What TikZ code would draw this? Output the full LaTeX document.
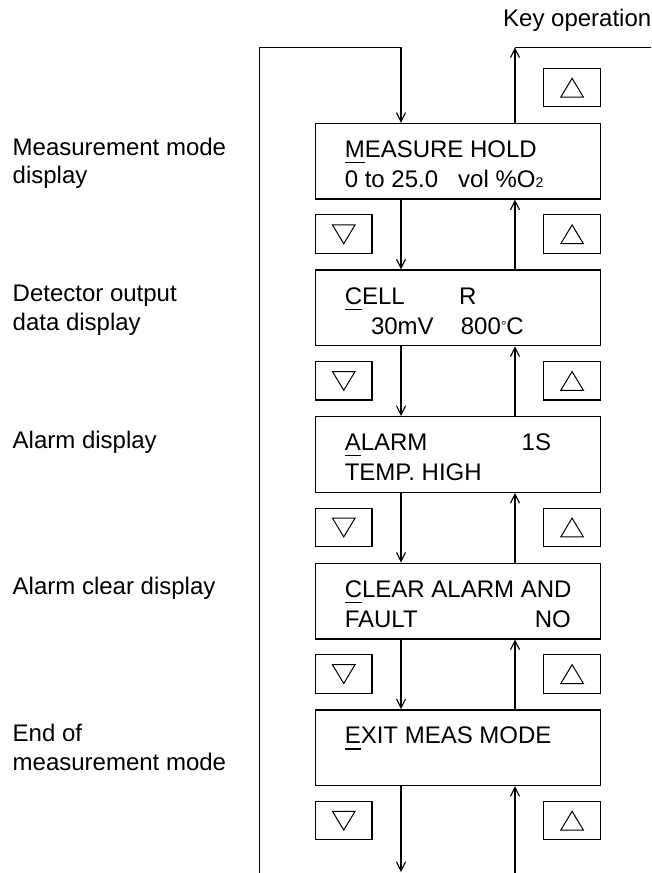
\documentclass[tikz,border=0pt]{standalone}
\usepackage{fontspec}
\setmainfont{Liberation Sans}
\usetikzlibrary{arrows.meta}
\newcommand{\firstul}[1]{\setbox0\hbox{#1}\rlap{\rule[-5.7pt]{\wd0}{1.3pt}}#1}
\begin{document}
\begin{tikzpicture}[x=1pt,y=-1pt,
  every node/.style={inner sep=0pt,font=\fontsize{24}{28}\selectfont},
  dispbox/.style={draw,line width=1.4pt,minimum width=284.8pt,minimum height=75.5pt},
  keybox/.style={draw,line width=1.1pt,minimum width=56.5pt,minimum height=38.5pt},
  txt/.style={anchor=base west},
  conn/.style={line width=1.1pt},
  arr/.style={conn,-{Straight Barb[length=9pt,width=9pt,line width=1.1pt]}},
  uptri/.pic={\draw[line width=1pt,line join=miter] (0,-9.2) -- (11.3,9.6) -- (-11.3,9.6) -- cycle;},
  dntri/.pic={\draw[line width=1pt,line join=miter] (0,9.6) -- (11.3,-9.2) -- (-11.3,-9.2) -- cycle;}]
\useasboundingbox (0,0) rectangle (651,873);
% title
\node[txt] (title) at (503,26.5) {Key operation};
% display boxes
\node[dispbox] (b1) at (457.9,161.25) {};
\node[dispbox] (b2) at (457.9,307.85) {};
\node[dispbox] (b3) at (457.9,454.45) {};
\node[dispbox] (b4) at (457.9,601.05) {};
\node[dispbox] (b5) at (457.9,747.65) {};
% box texts
\node[txt] (t1a) at (344.6,157.5) {\firstul{M}EASURE HOLD};
\node[txt] (t1b) at (344.6,187.5) {0 to 25.0};
\node[txt] (t1c) at (458,187.5) {vol \%O{\fontsize{14}{14}\selectfont 2}};
\node[txt] (t2a) at (344.6,304.1) {\firstul{C}ELL};
\node[txt] (t2b) at (458.8,304.1) {R};
\node[txt] (t2c) at (370.8,334.1) {30mV};
\node[txt] (t2d) at (460.7,334.1) {800\kern0.5pt\raisebox{4pt}{\fontsize{13}{13}\selectfont °}\kern-0.3ptC};
\node[txt] (t3a) at (344.6,450.7) {\firstul{A}LARM};
\node[txt] (t3b) at (521.5,450.7) {1S};
\node[txt] (t3c) at (344.6,480.7) {TEMP. HIGH};
\node[txt] (t4a) at (344.6,597.3) {\firstul{C}LEAR ALARM AND};
\node[txt] (t4b) at (344.6,627.3) {FAULT};
\node[txt] (t4c) at (534.7,627.3) {NO};
\node[txt] (t5a) at (344.6,743.9) {\firstul{E}XIT MEAS MODE};
% left labels
\node[txt] (l1a) at (12.5,155) {Measurement mode};
\node[txt] (l1b) at (12.5,183) {display};
\node[txt] (l2a) at (12.5,301.6) {Detector output};
\node[txt] (l2b) at (12.5,330.1) {data display};
\node[txt] (l3a) at (12.5,448.2) {Alarm display};
\node[txt] (l4a) at (12.5,594.8) {Alarm clear display};
\node[txt] (l5a) at (12.5,741.4) {End of};
\node[txt] (l5b) at (12.5,770) {measurement mode};
% key boxes
\foreach \n/\y in {r0/87.5,r1/234.1,r2/380.7,r3/527.3,r4/673.9,r5/820.5}{
  \node[keybox] (\n) at (572.1,\y) {};
  \pic at (\n.center) {uptri};
}
\foreach \n/\y in {k1/234.1,k2/380.7,k3/527.3,k4/673.9,k5/820.5}{
  \node[keybox] (\n) at (343.75,\y) {};
  \pic at (\n.center) {dntri};
}
% coordinates
\coordinate (loopB) at (259.5,873);
\coordinate (loopT) at (259.5,47.3);
\coordinate (dTop) at (401,47.3);
\coordinate (uTop) at (515,47.3);
\coordinate (exitR) at (651,47.3);
\coordinate (dEnd) at (401,872);
\coordinate (uEnd) at (515,873);
% connectors
\draw[conn] (loopB) -- (loopT) -- (dTop);
\draw[arr] (dTop) -- (dTop |- b1.north);
\draw[arr] (uTop |- b1.north) -- (uTop);
\draw[conn] (uTop) -- (exitR);
\foreach \a/\b in {b1/b2,b2/b3,b3/b4,b4/b5}{
  \draw[arr] (dTop |- \a.south) -- (dTop |- \b.north);
  \draw[arr] (uTop |- \b.north) -- (uTop |- \a.south);
}
\draw[arr] (dTop |- b5.south) -- (dEnd);
\draw[arr] (uEnd) -- (uTop |- b5.south);
\end{tikzpicture}
\end{document}
